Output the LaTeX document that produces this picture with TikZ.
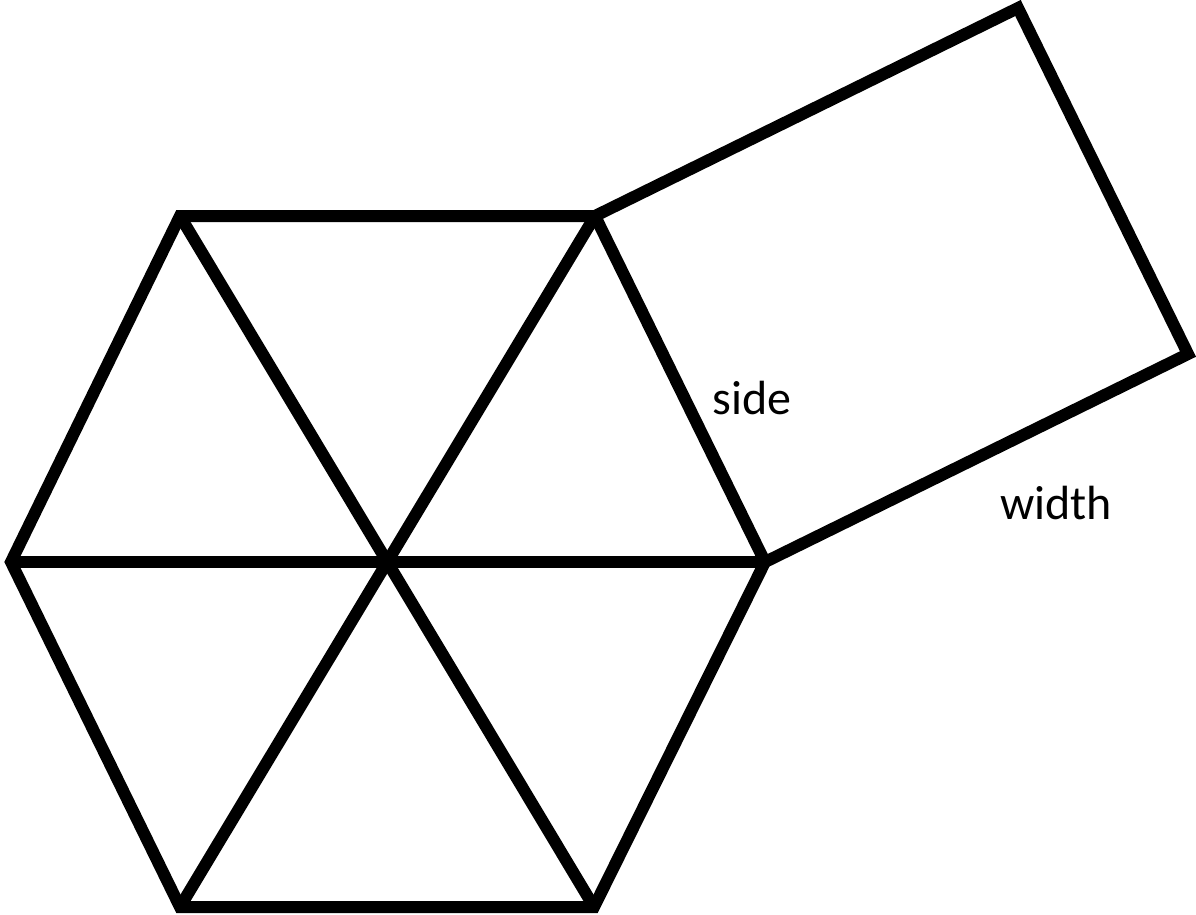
\documentclass[tikz,border=0pt]{standalone}
\usepackage{fontspec}
\setmainfont{Carlito}
\begin{document}
\begin{tikzpicture}[x=0.75pt,y=-0.75pt,
  edge/.style={line width=9pt,line join=miter,black},
  lbl/.style={font=\fontsize{36}{40}\selectfont,inner sep=0pt}]
\useasboundingbox (0,0) rectangle (1196,914);
\coordinate (L) at (11,562);
\coordinate (TL) at (180,216);
\coordinate (TR) at (595,216);
\coordinate (R) at (765,562);
\coordinate (BR) at (594,907);
\coordinate (BL) at (180,907);
\coordinate (C) at (387,562);
\coordinate (Q1) at (1018,8);
\coordinate (Q2) at (1188,354);
\draw[edge] (L) -- (TL) -- (TR) -- (R) -- (BR) -- (BL) -- cycle;
\draw[edge] (TL) -- (BR);
\draw[edge] (TR) -- (BL);
\draw[edge] (L) -- (R);
\draw[edge] (TR) -- (Q1) -- (Q2) -- (R);
\node[lbl] (side) at (752,398) {side};
\node[lbl] (width) at (1056,503) {width};
\end{tikzpicture}
\end{document}
